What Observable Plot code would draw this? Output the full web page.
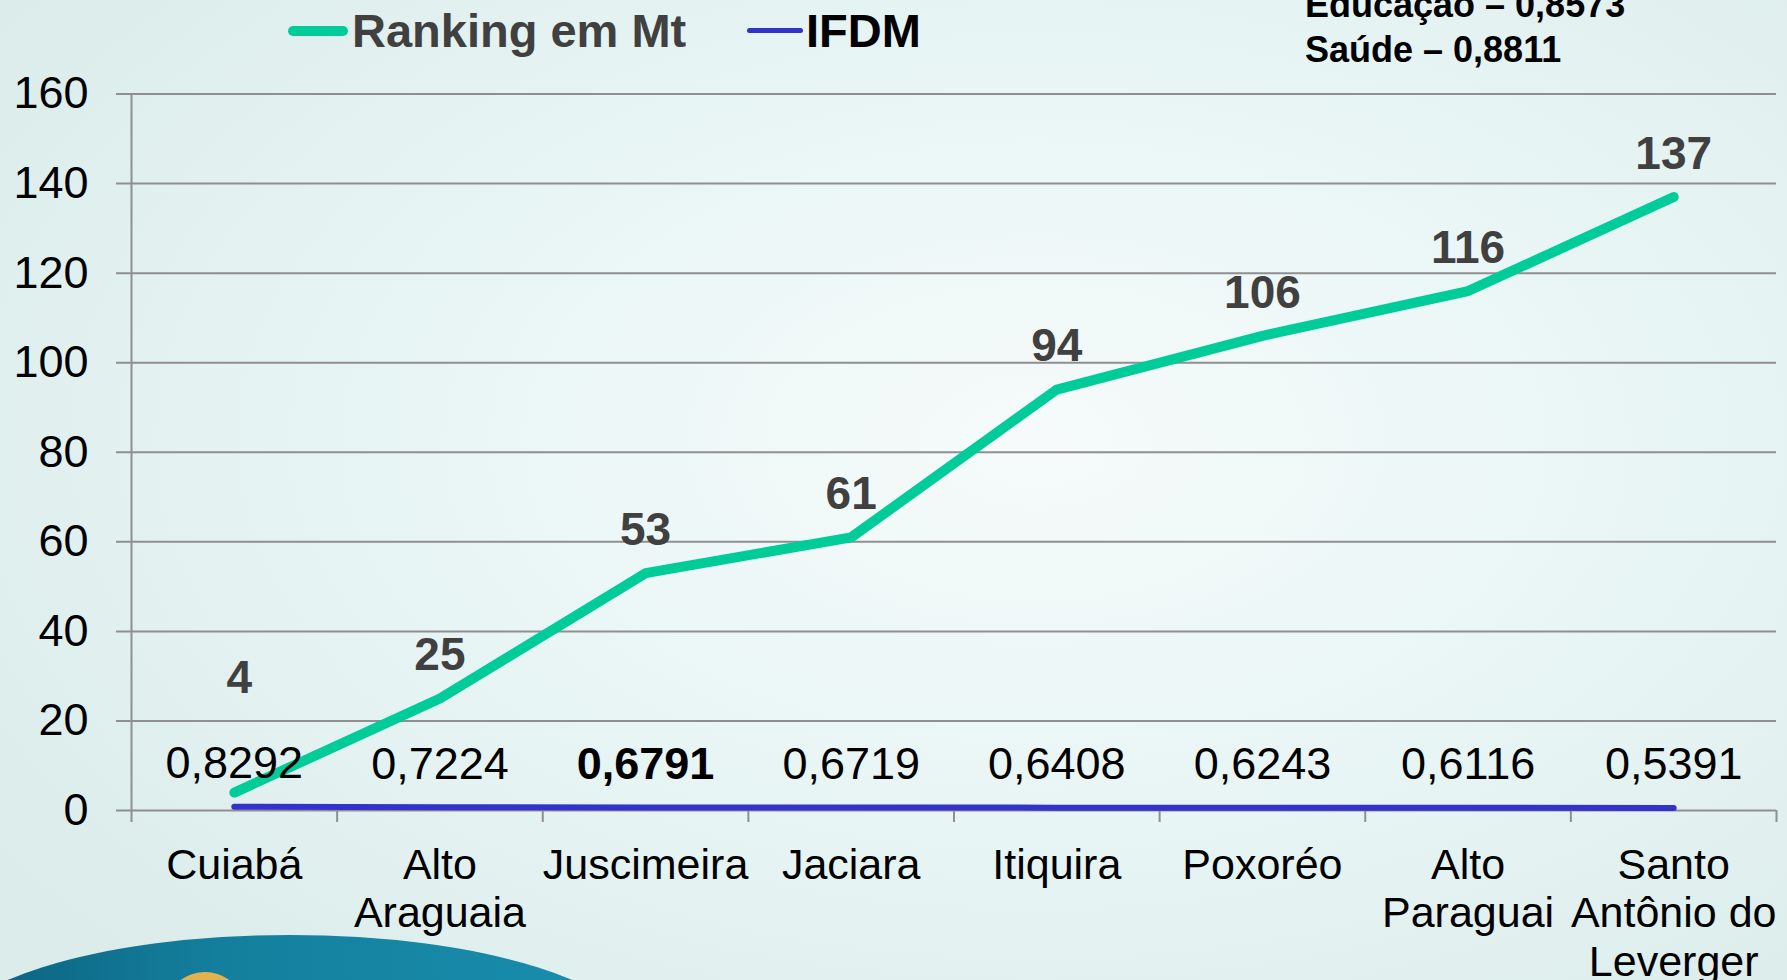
<!DOCTYPE html>
<html>
<head>
<meta charset="utf-8">
<script src="https://cdn.jsdelivr.net/npm/d3@7"></script>
<script src="https://cdn.jsdelivr.net/npm/@observablehq/plot@0.6"></script>
<style>
  html, body { margin: 0; padding: 0; }
  body {
    width: 1787px; height: 980px; overflow: hidden;
    font-family: "Liberation Sans", Arial, sans-serif;
    background: radial-gradient(ellipse 70% 75% at 58% 45%, #f6fafa 0%, #eaf6f6 45%, #dbeceb 100%);
  }
  #wrap { position: relative; width: 1787px; height: 980px; }
  #deco { position: absolute; left: -60px; top: 935px; width: 700px; height: 220px; border-radius: 50%;
          background: linear-gradient(90deg, #0b5f7c 0%, #137f9d 40%, #1a8fae 100%); }
  #deco2 { position: absolute; left: 172px; top: 972px; width: 66px; height: 50px; border-radius: 50%; background: #e2b24e; }
  #header { position: absolute; left: 0; top: 0; width: 1787px; height: 75px; }
  .leg { position: absolute; font-weight: bold; font-size: 47px; white-space: nowrap; line-height: 1; }
  .sw { position: absolute; border-radius: 6px; }
  .note { position: absolute; left: 1305px; font-weight: bold; font-size: 36px; white-space: nowrap; color: #000; line-height: 1; }
  #chart { position: absolute; left: 0; top: 75px; }
</style>
</head>
<body>
<div id="wrap">
  <div id="deco"></div>
  <div id="deco2"></div>
  <div id="header">
    <div class="sw" style="left:288px; top:26px; width:60px; height:10px; background:#00cc99;"></div>
    <div class="leg" style="left:352px; top:7px; color:#404040;">Ranking em Mt</div>
    <div class="sw" style="left:747px; top:28px; width:56px; height:5px; background:#3333cc;"></div>
    <div class="leg" style="left:806px; top:7px; color:#000;">IFDM</div>
    <div class="note" style="top:-13px;">Educação – 0,8573</div>
    <div class="note" style="top:32px;">Saúde – 0,8811</div>
  </div>
  <div id="chart"></div>
</div>
<script>
const cities = ["Cuiabá", "Alto Araguaia", "Juscimeira", "Jaciara", "Itiquira", "Poxoréo", "Alto Paraguai", "Santo Antônio do Leverger"];
const cityLabels = ["Cuiabá", "Alto\nAraguaia", "Juscimeira", "Jaciara", "Itiquira", "Poxoréo", "Alto\nParaguai", "Santo\nAntônio do\nLeverger"];
const ranking = [4, 25, 53, 61, 94, 106, 116, 137];
const ifdm = [0.8292, 0.7224, 0.6791, 0.6719, 0.6408, 0.6243, 0.6116, 0.5391];
const yTicks = [0, 20, 40, 60, 80, 100, 120, 140, 160];
const highlighted = "Juscimeira";

const data = cities.map((c, i) => ({
  city: c, label: cityLabels[i], pos: i + 0.5, rank: ranking[i], ifdm: ifdm[i],
  ifdmText: ifdm[i].toFixed(4).replace(".", ",")
}));
const bounds = d3.range(cities.length + 1);

const grid = "#8f8f8f";
const plot = Plot.plot({
  width: 1787,
  height: 905,
  marginLeft: 131,
  marginRight: 11,
  marginTop: 18.5,
  marginBottom: 170,
  style: { background: "transparent", fontFamily: "'Liberation Sans', Arial, sans-serif", fontSize: "45px", color: "#000", overflow: "visible" },
  x: { type: "linear", domain: [0, cities.length], axis: null },
  y: { domain: [0, 160], ticks: yTicks, tickSize: 0, tickPadding: 43, tickFormat: d => String(d), label: null },
  marks: [
    Plot.ruleY(yTicks, { stroke: grid, strokeWidth: 2, insetLeft: -15 }),
    Plot.ruleX([0], { y1: 0, y2: 160, stroke: grid, strokeWidth: 2 }),
    Plot.ruleX(bounds, { y1: 0, y2: 0, insetBottom: -12, stroke: grid, strokeWidth: 2 }),
    Plot.line(data, { x: "pos", y: "rank", stroke: "#00cc99", strokeWidth: 10, strokeLinecap: "round", strokeLinejoin: "round" }),
    Plot.line(data, { x: "pos", y: "ifdm", stroke: "#3333cc", strokeWidth: 6, strokeLinecap: "round" }),
    Plot.text(data.filter(d => d.city !== highlighted), { x: "pos", y: "ifdm", text: "ifdmText", dy: -43, fontSize: 45, fill: "#000" }),
    Plot.text(data.filter(d => d.city === highlighted), { x: "pos", y: "ifdm", text: "ifdmText", dy: -43, fontSize: 45, fontWeight: "bold", fill: "#000" }),
    Plot.text(data.slice(0, 1), { x: "pos", y: "rank", text: d => String(d.rank), dy: -114, dx: 5, fontSize: 46, fontWeight: "bold", fill: "#404040" }),
    Plot.text(data.slice(1), { x: "pos", y: "rank", text: d => String(d.rank), dy: -43, fontSize: 46, fontWeight: "bold", fill: "#404040" }),
    Plot.text(data, { x: "pos", y: () => 0, text: "label", lineAnchor: "top", dy: 34.5, fontSize: 43, lineHeight: 1.12, fill: "#000" })
  ]
});
document.getElementById("chart").appendChild(plot);
</script>
</body>
</html>
